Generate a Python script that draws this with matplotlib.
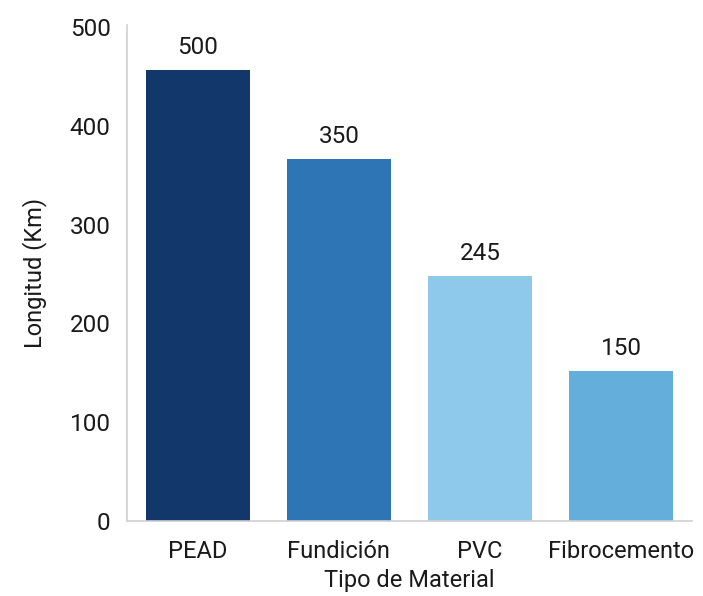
import matplotlib.pyplot as plt

# Datos (alturas de barra tal como se dibujan) y etiquetas mostradas
materiales = ['PEAD', 'Fundición', 'PVC', 'Fibrocemento']
longitudes = [456, 366, 248, 152]
etiquetas = ['500', '350', '245', '150']
colores = ['#12386b', '#2e75b6', '#8ec8ea', '#64aedb']

plt.rcParams['font.family'] = ['Roboto', 'DejaVu Sans']

fig = plt.figure(figsize=(7.03, 5.96), dpi=100)
ax = fig.add_axes([0.181, 0.126, 0.803, 0.832])

x = range(len(materiales))
bars = ax.bar(x, longitudes, width=0.74, color=colores)

# Etiquetas sobre las barras
for bar, txt in zip(bars, etiquetas):
    ax.annotate(txt, (bar.get_x() + bar.get_width() / 2, bar.get_height()),
                xytext=(0, 8), textcoords='offset points',
                ha='center', va='bottom', fontsize=17.5, color='#1a1a1a')

ax.set_xlim(-0.5, 3.5)
ax.set_ylim(0, 502)
ax.set_yticks([0, 100, 200, 300, 400, 500])
ax.set_xticks(list(x))
ax.set_xticklabels(materiales)
ax.tick_params(axis='both', length=0, labelsize=17.5, colors='#1a1a1a')
ax.tick_params(axis='x', labelsize=17, pad=14)
ax.tick_params(axis='y', pad=12)

ax.set_xlabel('Tipo de Material', fontsize=17, color='#1a1a1a', labelpad=4)
ax.set_ylabel('Longitud (Km)', fontsize=17, color='#1a1a1a', labelpad=16)

for side in ['top', 'right']:
    ax.spines[side].set_visible(False)
for side in ['left', 'bottom']:
    ax.spines[side].set_color('#d0d0d0')
    ax.spines[side].set_linewidth(1.2)

fig.savefig('out.png', dpi=100)
